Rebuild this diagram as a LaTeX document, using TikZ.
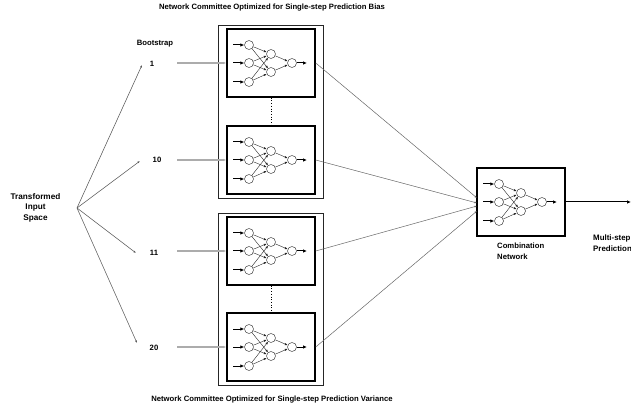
\documentclass[tikz,border=0pt]{standalone}
\usepackage{fontspec}
\setmainfont{Liberation Sans}
\usetikzlibrary{arrows.meta}
\tikzset{
 ibox/.style={draw, line width=1.5pt, minimum width=88pt, minimum height=68pt, inner sep=0pt},
 obox/.style={draw=black!85, line width=0.9pt, inner sep=0pt},
 neuron/.style={draw=black!80, circle, line width=0.45pt, minimum size=9pt, inner sep=0pt, fill=white},
 inarr/.style={line width=1pt, -{Latex[length=4pt,width=3.5pt]}},
 conn/.style={draw=black!85, line width=0.4pt, -{Latex[length=2.8pt,width=2.3pt]}},
 feed/.style={draw=gray!65, line width=1.2pt, -{Latex[length=3pt,width=2.5pt]}},
 fan/.style={draw=black!65, line width=0.55pt, -{Latex[length=2.5pt,width=2pt]}},
 tocomb/.style={draw=black!60, line width=0.5pt, -{Latex[length=2.5pt,width=2pt]}},
 lbl/.style={font=\bfseries\fontsize{7.7}{10.5}\selectfont, inner sep=0pt},
}
\newcommand{\nnet}[3]{%
 \node[ibox] (#1) at ({#2+44},{#3+34}) {};
 \foreach \i/\dy in {1/16,2/34,3/53}{
   \node[neuron] (#1-i\i) at ({#2+22},{#3+\dy}) {};
   \coordinate (#1-s\i) at ({#2+6},{#3+\dy});
   \draw[inarr] (#1-s\i) -- (#1-i\i);
 }
 \foreach \j/\dy in {1/25,2/43}{\node[neuron] (#1-h\j) at ({#2+44},{#3+\dy}) {};}
 \node[neuron] (#1-o) at ({#2+65},{#3+34}) {};
 \coordinate (#1-e) at ({#2+80},{#3+34});
 \foreach \i in {1,2,3}{\foreach \j in {1,2}{\draw[conn] (#1-i\i) -- (#1-h\j);}}
 \foreach \j in {1,2}{\draw[conn] (#1-h\j) -- (#1-o);}
 \draw[inarr] (#1-o) -- (#1-e);
}
\begin{document}
\begin{tikzpicture}[x=1pt,y=-1pt]
\useasboundingbox (0,0) rectangle (631,411);
% outer committee boxes
\node[obox, minimum width=105pt, minimum height=173pt] (topc) at (271,111.5) {};
\node[obox, minimum width=105pt, minimum height=172pt] (botc) at (271,299) {};
% networks
\nnet{n1}{227}{29}
\nnet{n10}{227}{126}
\nnet{n11}{227}{217}
\nnet{n20}{227}{313}
\nnet{comb}{477}{168}
\draw[dotted, line width=0.7pt] (n1.south) -- (n10.north);
\draw[dotted, line width=0.7pt] (n11.south) -- (n20.north);
% labels
\node[lbl] (title1) at (272,8) {Network Committee Optimized for Single-step Prediction Bias};
\node[lbl] (title2) at (272,400) {Network Committee Optimized for Single-step Prediction Variance};
\node[lbl] (boot) at (155,44) {Bootstrap};
\node[lbl] (l1) at (152,64) {1};
\node[lbl] (l10) at (157,160) {10};
\node[lbl] (l11) at (154,253) {11};
\node[lbl] (l20) at (154,348) {20};
\node[lbl, align=center, font=\bfseries\fontsize{8.2}{10.5}\selectfont] (tis) at (35.5,207.5) {Transformed\\Input\\Space};
\node[lbl, align=left, anchor=north west] (combl) at (497,243) {Combination\\Network};
\node[lbl, align=left, anchor=north west, font=\bfseries\fontsize{7.9}{10.5}\selectfont] (msp) at (593,235) {Multi-step\\Prediction};
% fan arrows
\coordinate (fan) at (77,208);
\coordinate (t1) at (142,65);
\coordinate (t10) at (140,161);
\coordinate (t11) at (136,253);
\coordinate (t20) at (137,343);
\draw[fan] (fan) -- (t1);
\draw[fan] (fan) -- (t10);
\draw[fan] (fan) -- (t11);
\draw[fan] (fan) -- (t20);
% feeds into networks
\coordinate (s1) at (177,63);
\coordinate (s10) at (177,160);
\coordinate (s11) at (177,251);
\coordinate (s20) at (177,347);
\draw[feed] (s1) -- (n1.west);
\draw[feed] (s10) -- (n10.west);
\draw[feed] (s11) -- (n11.west);
\draw[feed] (s20) -- (n20.west);
% to combination
\coordinate (c1) at (477,198);
\coordinate (c2) at (477,203);
\coordinate (c3) at (477,206);
\coordinate (c4) at (477,211);
\draw[tocomb] (n1.east) -- (c1);
\draw[tocomb] (n10.east) -- (c2);
\draw[tocomb] (n11.east) -- (c3);
\draw[tocomb] (n20.east) -- (c4);
% output
\coordinate (out) at (631,202);
\draw[line width=1pt, -{Latex[length=4pt,width=3.5pt]}] (comb.east) -- (out);
\end{tikzpicture}
\end{document}
